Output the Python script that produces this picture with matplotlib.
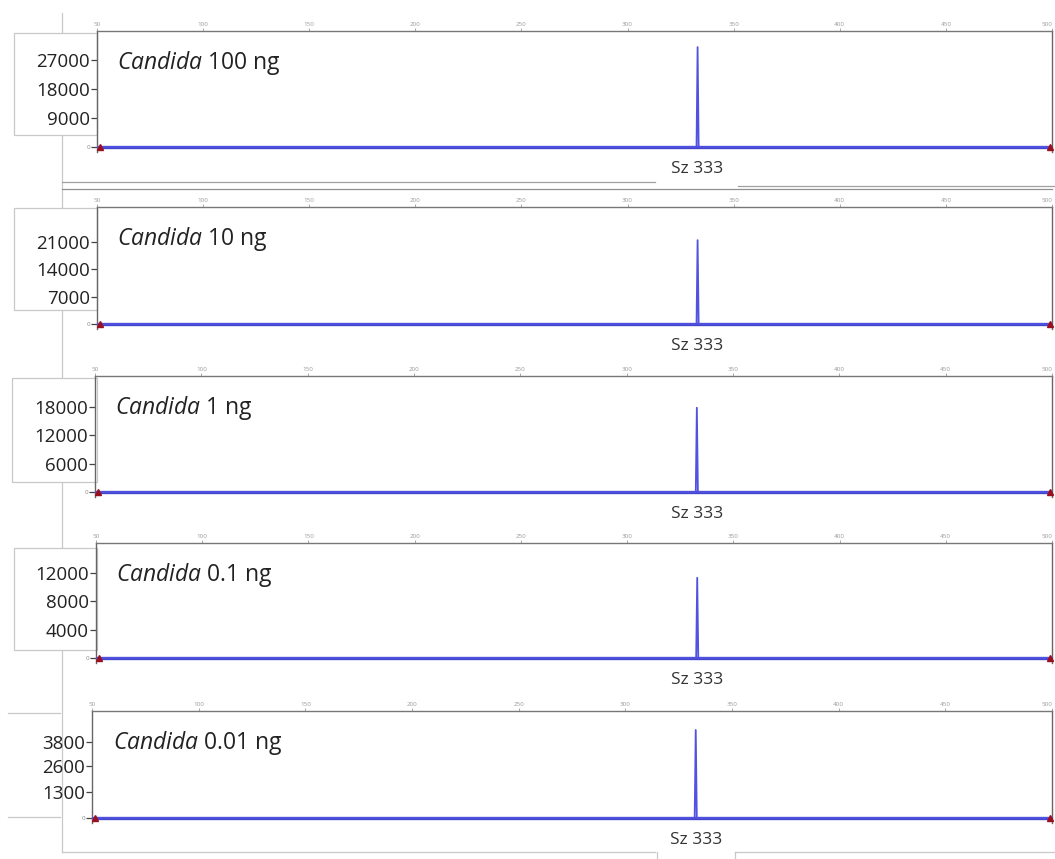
import matplotlib
matplotlib.use("Agg")
import matplotlib.pyplot as plt
from matplotlib.lines import Line2D
from matplotlib.patches import Rectangle

plt.rcParams['font.family'] = ['Open Sans', 'DejaVu Sans']
plt.rcParams['mathtext.fontset'] = 'custom'
plt.rcParams['mathtext.rm'] = 'Open Sans'
plt.rcParams['mathtext.it'] = 'Open Sans:italic'

# ---------------- data ----------------
sizes = [50, 332.5, 333, 333.5, 500]        # fragment size (bp) along the trace
amounts = ["100 ng", "10 ng", "1 ng", "0.1 ng", "0.01 ng"]
peak_heights = [31000, 21500, 17800, 11300, 4400]
y_tops = [36000, 30000, 24500, 16200, 5350]
y_ticks = [
    [0, 9000, 18000, 27000],
    [0, 7000, 14000, 21000],
    [0, 6000, 12000, 18000],
    [0, 4000, 8000, 12000],
    [0, 1300, 2600, 3800],
]
x_ticks = [50, 100, 150, 200, 250, 300, 350, 400, 450, 500]
peak_label = "Sz 333"
peak_size = 333

# ---------------- layout (pixels of the 1055x859 picture) ----------------
W, H = 1055, 859
panel_left = [97, 97, 95, 96, 92]
panel_top = [31, 207, 376, 543, 711]
panel_base = [147, 324, 492, 658, 818]
label_boxes = [(14, 33, 135), (14, 208, 310), (12, 378, 482), (14, 548, 650)]

trace_color = "#4343cc"
frame_color = "#c8c8c8"


def fx(x):
    return x / W


def fy(y):
    return 1 - y / H


fig = plt.figure(figsize=(W / 100, H / 100), dpi=100)

# screenshot frames behind the panels
def add_line(xs, ys, color=frame_color, lw=0.9):
    fig.add_artist(Line2D([fx(x) for x in xs], [fy(y) for y in ys],
                          color=color, lw=lw, zorder=0))

add_line([62, 62], [13, 852])
add_line([62, 655], [182, 182], color="#a0a0a0")
add_line([738, 1055], [186, 186], color="#a0a0a0")
add_line([62, 1052], [189, 189], color="#909090")
add_line([62, 655], [852, 852])
add_line([735, 1055], [852, 852])
add_line([657, 657], [852, 859])
add_line([735, 735], [852, 859])
add_line([8, 60], [713, 713])
add_line([8, 60], [817, 817])

# boxes behind the pasted y labels
for x0, y0, y1 in label_boxes:
    fig.add_artist(Rectangle((fx(x0), fy(y1)), fx(97 - x0), (y1 - y0) / H,
                             transform=fig.transFigure, facecolor="white",
                             edgecolor=frame_color, lw=0.9, zorder=0))

for i in range(5):
    pad_px = 5
    bottom_px = panel_base[i] + pad_px
    height_px = bottom_px - panel_top[i]
    ax = fig.add_axes([fx(panel_left[i]), fy(bottom_px),
                       fx(1052 - panel_left[i]), height_px / H])
    ax.patch.set_alpha(0)

    heights = [0, 0, peak_heights[i], 0, 0]
    ax.plot(sizes, heights, color="#5252e2", lw=1.3, zorder=3)
    ax.plot([sizes[0], sizes[-1]], [0, 0], color=trace_color, lw=2.4, zorder=2)
    ax.plot([sizes[0] + 1.5, sizes[-1] - 1], [0, 0], ls="none", marker="^",
            ms=5, color="#9a1020", zorder=4, clip_on=False)

    ytop = y_tops[i]
    ymin = -ytop * pad_px / (panel_base[i] - panel_top[i])
    ax.set_xlim(50, 500)
    ax.set_ylim(ymin, ytop)

    ax.xaxis.tick_top()
    ax.set_xticks(x_ticks)
    ax.set_xticklabels([str(t) for t in x_ticks], fontsize=4.5, color="#9a9a9a")
    ax.tick_params(axis="x", length=2, width=0.6, color="#9a9a9a", pad=1)
    ax.get_xticklabels()[-1].set_horizontalalignment("right")

    ax.set_yticks(y_ticks[i])
    ax.set_yticklabels([str(t) for t in y_ticks[i]], fontsize=13.5, color="#222222")
    ax.tick_params(axis="y", length=4, width=0.9, color="#444444", pad=1)
    ylabels = ax.get_yticklabels()
    ylabels[0].set_fontsize(4.5)
    ylabels[0].set_color("#888888")

    ax.spines["bottom"].set_visible(False)
    ax.spines["top"].set_color("#777777")
    ax.spines["right"].set_color("#666666")
    ax.spines["left"].set_color("#666666")
    for s in ("top", "left", "right"):
        ax.spines[s].set_linewidth(1.0)

    ax.annotate(r"$\it{Candida}$ " + amounts[i], xy=(0, 1), xycoords="axes fraction",
                xytext=(20 if i < 4 else 21, -32), textcoords="offset pixels",
                fontsize=16.5, color="#222222", va="center", ha="left")
    ax.annotate(peak_label, xy=(peak_size, 0), xycoords="data",
                xytext=(0, -22), textcoords="offset pixels",
                fontsize=12.5, color="#333333", va="center", ha="center",
                annotation_clip=False)

fig.savefig("out.png", dpi=100, facecolor="white")
